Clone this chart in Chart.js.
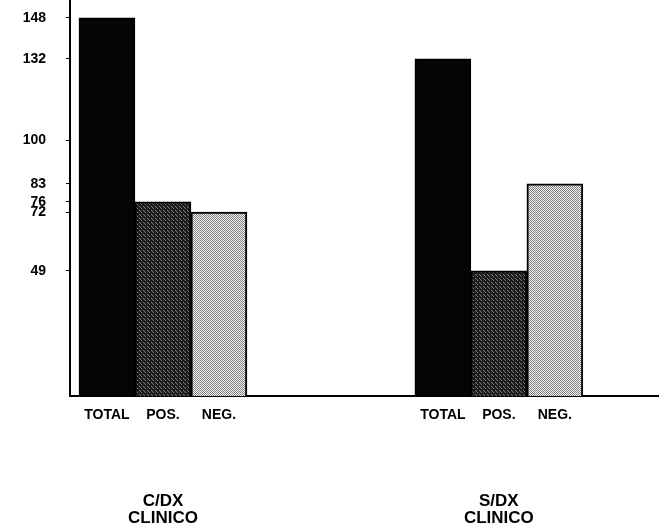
<!DOCTYPE html>
<html>
<head>
<meta charset="utf-8">
<script src="https://cdn.jsdelivr.net/npm/chart.js@4.4.0/dist/chart.umd.min.js"></script>
<style>
  html, body { margin: 0; padding: 0; background: #fff; }
  canvas { display: block; }
</style>
</head>
<body>
<canvas id="chart" width="659" height="530"></canvas>
<script>
// chart data
const groupLabels = [['C/DX', 'CLINICO'], ['S/DX', 'CLINICO']];
const subLabels = ['TOTAL', 'POS.', 'NEG.'];
const totalValues = [148, 132];
const posValues = [76, 49];
const negValues = [72, 83];
const yTickValues = [49, 72, 76, 83, 100, 132, 148];

const GROUP_STEP = 6; // slots from the first bar of one group to the next

// small halftone tiles to imitate the printed screens
function makePattern(size, base, dots, dotColor) {
  const c = document.createElement('canvas');
  c.width = size;
  c.height = size;
  const ctx = c.getContext('2d');
  ctx.fillStyle = base;
  ctx.fillRect(0, 0, size, size);
  ctx.fillStyle = dotColor;
  dots.forEach(([x, y]) => ctx.fillRect(x, y, 1, 1));
  return ctx.createPattern(c, 'repeat');
}

const posFill = makePattern(4, '#1e1e1e', [[1, 0], [3, 2], [0, 3]], '#7a7a7a');
const negFill = makePattern(2, '#f6f6f6', [[0, 0], [1, 1]], '#7e7e7e');

function toPoints(values, subIndex) {
  return values.map((v, g) => ({ x: g * GROUP_STEP + subIndex, y: v }));
}

const seriesValues = [totalValues, posValues, negValues];
const fills = ['#050505', posFill, negFill];

const datasets = subLabels.map((label, s) => ({
  label,
  data: toPoints(seriesValues[s], s),
  backgroundColor: fills[s],
  borderColor: '#000',
  borderWidth: 2
}));

const subTickValues = [];
groupLabels.forEach((_, g) => subLabels.forEach((_, s) => subTickValues.push(g * GROUP_STEP + s)));
const groupTickValues = groupLabels.map((_, g) => g * GROUP_STEP + 1);

const xMin = -0.66;
const xMax = 9.86;
const tickFont = { family: '"Liberation Sans", Arial, sans-serif', size: 14, weight: 'bold' };

new Chart(document.getElementById('chart'), {
  type: 'bar',
  data: { datasets },
  options: {
    responsive: false,
    animation: false,
    layout: { padding: 0 },
    plugins: {
      legend: { display: false },
      tooltip: { enabled: false }
    },
    datasets: {
      bar: { grouped: false, barPercentage: 1, categoryPercentage: 1 }
    },
    scales: {
      x: {
        type: 'linear',
        position: 'bottom',
        weight: 0,
        offset: false,
        min: xMin,
        max: xMax,
        afterBuildTicks: scale => { scale.ticks = subTickValues.map(value => ({ value })); },
        afterFit: scale => { scale.height = 26; },
        grid: { display: false, drawTicks: false, offset: false },
        border: { display: true, color: '#000', width: 2 },
        ticks: {
          autoSkip: false,
          maxRotation: 0,
          padding: 11,
          color: '#000',
          font: tickFont,
          callback: value => subLabels[value % GROUP_STEP]
        }
      },
      x2: {
        type: 'linear',
        position: 'bottom',
        weight: 1,
        offset: false,
        min: xMin,
        max: xMax,
        afterBuildTicks: scale => { scale.ticks = groupTickValues.map(value => ({ value })); },
        afterFit: scale => { scale.height = 108; },
        grid: { display: false, drawTicks: false, offset: false },
        border: { display: false },
        ticks: {
          autoSkip: false,
          maxRotation: 0,
          padding: 70,
          color: '#000',
          font: { ...tickFont, size: 17, lineHeight: 1.05 },
          callback: value => groupLabels[Math.round((value - 1) / GROUP_STEP)]
        }
      },
      y: {
        min: 0,
        max: 155,
        afterBuildTicks: scale => { scale.ticks = yTickValues.map(value => ({ value })); },
        afterFit: scale => {
          scale.width = 70;
          scale.paddingTop = 0;
          scale.paddingBottom = 0;
        },
        grid: { drawOnChartArea: false, drawTicks: true, tickLength: 4, color: '#000', lineWidth: 1 },
        border: { display: true, color: '#000', width: 2 },
        ticks: {
          padding: 20,
          color: '#000',
          font: tickFont
        }
      }
    }
  }
});
</script>
</body>
</html>
